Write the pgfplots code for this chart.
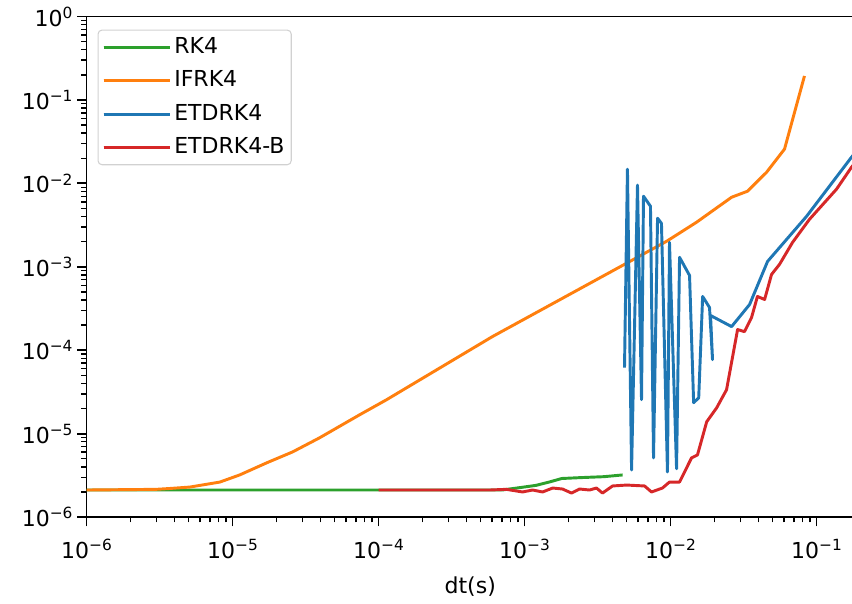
\documentclass[border=0pt]{standalone}
\usepackage{fontspec}
\setmainfont{DejaVu Sans}
\usepackage{pgfplots}
\pgfplotsset{compat=1.18}

\definecolor{tabblue}{HTML}{1F77B4}
\definecolor{taborange}{HTML}{FF7F0E}
\definecolor{tabgreen}{HTML}{2CA02C}
\definecolor{tabred}{HTML}{D62728}

% power-of-ten tick label set in the text font
\newcommand{\pw}[1]{10\raisebox{5.9pt}{\fontsize{11.55}{12}\selectfont #1}}
\newcommand{\lbl}{\fontsize{16.5}{19.8}\selectfont}

\begin{document}
\begin{tikzpicture}
\begin{axis}[
  xmode=log, ymode=log,
  scale only axis,
  width=575.6pt, height=375.4pt,
  xmin=1e-6, xmax=0.1806,
  ymin=1e-6, ymax=1,
  xtick={1e-6,1e-5,1e-4,1e-3,1e-2,1e-1},
  xticklabels={\pw{−6},\pw{−5},\pw{−4},\pw{−3},\pw{−2},\pw{−1}},
  ytick={1e-6,1e-5,1e-4,1e-3,1e-2,1e-1,1},
  yticklabels={\pw{−6},\pw{−5},\pw{−4},\pw{−3},\pw{−2},\pw{−1},\pw{0}},
  minor xtick={2e-6,3e-6,4e-6,5e-6,6e-6,7e-6,8e-6,9e-6,
               2e-5,3e-5,4e-5,5e-5,6e-5,7e-5,8e-5,9e-5,
               2e-4,3e-4,4e-4,5e-4,6e-4,7e-4,8e-4,9e-4,
               2e-3,3e-3,4e-3,5e-3,6e-3,7e-3,8e-3,9e-3,
               2e-2,3e-2,4e-2,5e-2,6e-2,7e-2,8e-2,9e-2},
  minor ytick={2e-6,3e-6,4e-6,5e-6,6e-6,7e-6,8e-6,9e-6,
               2e-5,3e-5,4e-5,5e-5,6e-5,7e-5,8e-5,9e-5,
               2e-4,3e-4,4e-4,5e-4,6e-4,7e-4,8e-4,9e-4,
               2e-3,3e-3,4e-3,5e-3,6e-3,7e-3,8e-3,9e-3,
               2e-2,3e-2,4e-2,5e-2,6e-2,7e-2,8e-2,9e-2,
               2e-1,3e-1,4e-1,5e-1,6e-1,7e-1,8e-1,9e-1},
  tick align=outside,
  xtick pos=lower, ytick pos=left,
  major tick length=7pt, minor tick length=4pt,
  every major tick/.append style={line width=1.4pt, black},
  every minor tick/.append style={line width=1pt, black},
  axis line style={line width=1.4pt},
  tick label style={font=\lbl},
  xticklabel style={yshift=-6pt},
  xlabel={dt(s)},
  xlabel style={font=\lbl, yshift=-7pt},
  legend cell align=left,
  legend style={at={(0,1)}, anchor=north west, xshift=8.25pt, yshift=-9.75pt,
    draw=black!18, line width=0.8pt, rounded corners=3pt, font=\lbl,
    inner xsep=3pt, inner ysep=3pt, row sep=5pt,
    nodes={inner sep=2pt, text height=12.5pt, text depth=3.5pt}},
  legend image code/.code={%
    \draw[#1, line width=2.2pt] (0pt,0pt) -- (37.5pt,0pt);
    \path (0pt,0pt) -- (50pt,0pt);},
  every axis plot/.append style={line width=2.2pt, line join=round},
]
% RK4
\addplot[tabgreen] coordinates {
 (1e-6,2.11e-6) (7e-4,2.11e-6) (9.2e-4,2.25e-6) (1.2e-3,2.4e-6)
 (1.5e-3,2.65e-6) (1.8e-3,2.9e-6) (2.4e-3,2.97e-6) (3.5e-3,3.05e-6)
 (4.7e-3,3.2e-6)};
\addlegendentry{RK4}
% IFRK4
\addplot[taborange] coordinates {
 (1e-6,2.11e-6) (3e-6,2.15e-6) (3.7e-6,2.2e-6) (5.1e-6,2.29e-6)
 (8.2e-6,2.63e-6) (1.12e-5,3.2e-6) (1.71e-5,4.46e-6) (2.58e-5,6.04e-6)
 (3.94e-5,8.9e-6) (7.41e-5,1.68e-5) (1.135e-4,2.55e-5) (6.04e-4,1.46e-4)
 (4.84e-3,1.07e-3) (9.39e-3,2.02e-3) (1.507e-2,3.42e-3) (2.62e-2,6.82e-3)
 (3.37e-2,8.06e-3) (4.55e-2,1.36e-2) (6.04e-2,2.58e-2) (8.27e-2,0.194)};
\addlegendentry{IFRK4}
% ETDRK4
\addplot[tabblue] coordinates {
 (4.84e-3,6.18e-5) (5.07e-3,1.48e-2) (5.41e-3,3.67e-6) (5.94e-3,9.51e-3)
 (6.33e-3,2.55e-5) (6.53e-3,7.02e-3) (7.29e-3,5.32e-3) (7.65e-3,5.12e-6)
 (8.15e-3,3.82e-3) (8.67e-3,3.32e-3) (9.53e-3,3.47e-6) (9.84e-3,1.96e-3)
 (1.10e-2,3.8e-6) (1.153e-2,1.30e-3) (1.35e-2,7.88e-4) (1.44e-2,2.35e-5)
 (1.56e-2,2.69e-5) (1.66e-2,4.41e-4) (1.85e-2,3.25e-4) (1.94e-2,7.71e-5)
 (1.88e-2,2.61e-4) (2.62e-2,1.92e-4) (3.48e-2,3.53e-4) (4.62e-2,1.16e-3)
 (8.55e-2,4.03e-3) (0.174,2.07e-2) (0.2,2.75e-2)};
\addlegendentry{ETDRK4}
% ETDRK4-B
\addplot[tabred] coordinates {
 (1e-4,2.11e-6) (5.75e-4,2.11e-6) (7.5e-4,2.15e-6) (9.69e-4,2.0e-6)
 (1.135e-3,2.11e-6) (1.33e-3,2.0e-6) (1.56e-3,2.23e-6) (1.82e-3,2.17e-6)
 (2.1e-3,1.94e-6) (2.38e-3,2.17e-6) (2.79e-3,2.11e-6) (3.11e-3,2.23e-6)
 (3.42e-3,1.94e-6) (4.01e-3,2.36e-6) (5.0e-3,2.42e-6) (6.64e-3,2.36e-6)
 (7.41e-3,2.0e-6) (8.81e-3,2.23e-6) (9.84e-3,2.63e-6) (1.153e-2,2.63e-6)
 (1.393e-2,5.12e-6) (1.53e-2,5.56e-6) (1.77e-2,1.39e-5) (2.07e-2,2.04e-5)
 (2.42e-2,3.36e-5) (2.88e-2,1.77e-4) (3.21e-2,1.67e-4) (3.59e-2,2.47e-4)
 (3.94e-2,4.41e-4) (4.41e-2,4.06e-4) (4.92e-2,8.10e-4) (5.58e-2,1.07e-3)
 (6.85e-2,1.96e-3) (8.95e-2,3.71e-3) (0.137,8.51e-3) (0.174,1.57e-2)
 (0.2,2.1e-2)};
\addlegendentry{ETDRK4-B\hspace{4.5pt}}
\end{axis}
\pgfresetboundingbox
\path ([xshift=-64.9pt,yshift=-64.5pt]current axis.south west)
  rectangle ([xshift=-1.5pt,yshift=12.4pt]current axis.north east);
\end{tikzpicture}
\end{document}
